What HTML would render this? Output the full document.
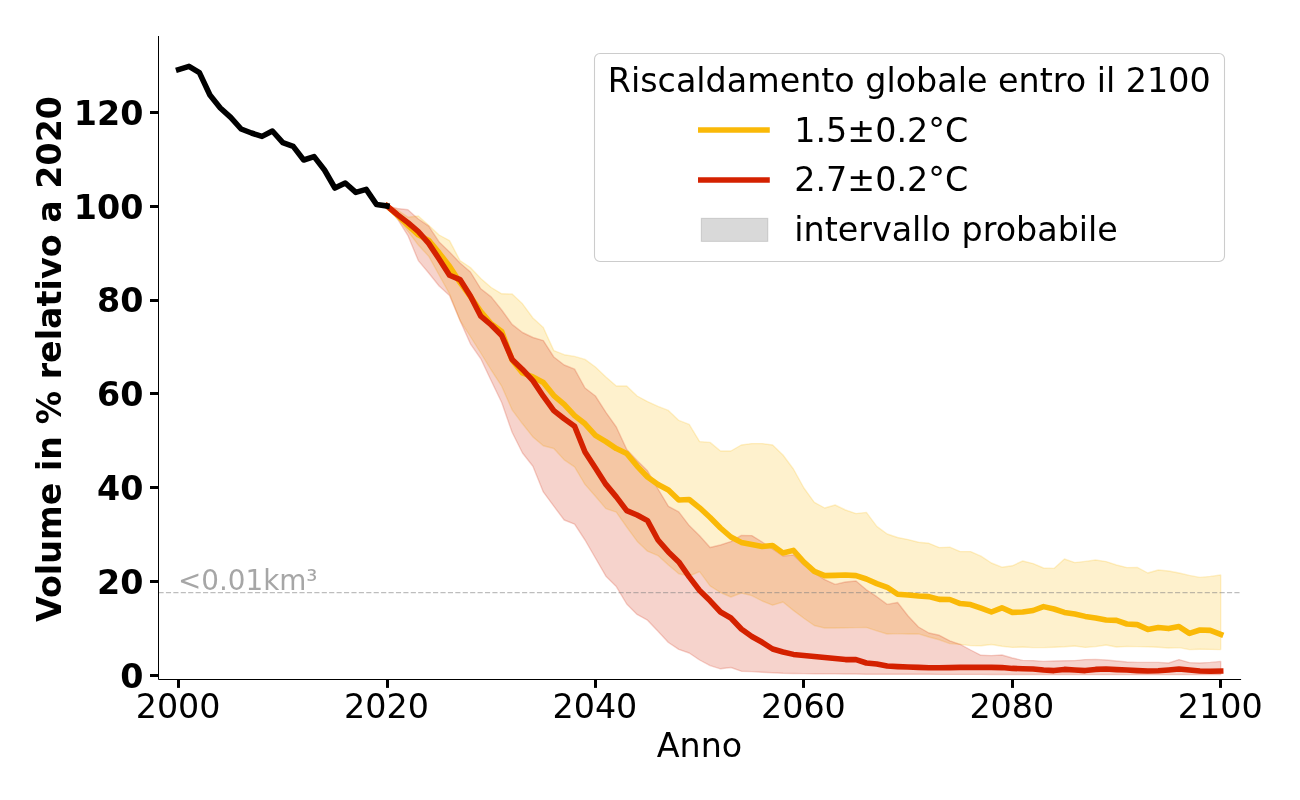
<!DOCTYPE html>
<html lang="it"><head><meta charset="utf-8"><title>Volume in % relativo a 2020</title>
<style>
html,body{margin:0;padding:0;background:#fff;}
body{width:1300px;height:800px;overflow:hidden;}
svg{display:block;}
text{font-family:"DejaVu Sans","Liberation Sans",sans-serif;fill:#000;}
.b{font-weight:bold;}
</style></head><body>
<svg width="1300" height="800" viewBox="0 0 1300 800">
<rect width="1300" height="800" fill="#fff"/>
<polygon points="387.0,206.0 397.4,210.0 407.9,217.2 418.3,216.0 428.7,225.3 439.1,235.0 449.5,240.6 460.0,260.6 470.4,267.5 480.8,278.5 491.2,287.5 501.7,293.8 512.1,294.0 522.5,303.8 532.9,318.0 543.3,327.5 553.8,350.6 564.2,354.7 574.6,356.4 585.0,359.4 595.4,367.0 605.9,377.0 616.3,386.0 626.7,386.0 637.1,396.0 647.5,401.6 658.0,406.4 668.4,410.4 678.8,420.4 689.2,424.4 699.6,441.6 710.1,442.4 720.5,451.0 730.9,451.0 741.3,445.0 751.8,443.6 762.2,443.6 772.6,445.0 783.0,455.0 793.4,469.0 803.9,488.0 814.3,502.3 824.7,508.0 835.1,505.0 845.5,510.0 856.0,513.6 866.4,512.4 876.8,526.4 887.2,534.0 897.6,537.5 908.1,539.6 918.5,542.2 928.9,543.3 939.3,547.6 949.8,547.2 960.2,551.6 970.6,551.6 981.0,556.2 991.4,563.0 1001.9,567.2 1012.3,565.8 1022.7,561.0 1033.1,563.6 1043.5,568.0 1054.0,568.4 1064.4,559.0 1074.8,562.6 1085.2,561.4 1095.6,560.0 1106.1,561.6 1116.5,565.0 1126.9,567.6 1137.3,567.4 1147.8,573.0 1158.2,570.0 1168.6,571.0 1179.0,573.0 1189.4,575.4 1199.9,577.4 1210.3,576.4 1220.7,575.0 1220.7,649.6 1210.3,649.4 1199.9,649.2 1189.4,649.6 1179.0,647.6 1168.6,648.0 1158.2,647.2 1147.8,646.8 1137.3,646.6 1126.9,646.4 1116.5,647.0 1106.1,645.0 1095.6,646.6 1085.2,647.4 1074.8,646.0 1064.4,646.8 1054.0,647.2 1043.5,647.6 1033.1,647.6 1022.7,647.0 1012.3,647.4 1001.9,646.2 991.4,644.5 981.0,645.8 970.6,645.6 960.2,644.4 949.8,643.6 939.3,639.8 928.9,637.0 918.5,633.8 908.1,634.0 897.6,633.6 887.2,634.0 876.8,630.8 866.4,627.4 856.0,627.6 845.5,627.8 835.1,628.0 824.7,628.0 814.3,625.5 803.9,618.2 793.4,610.4 783.0,602.0 772.6,605.2 762.2,601.0 751.8,595.6 741.3,593.0 730.9,597.0 720.5,592.5 710.1,585.9 699.6,571.6 689.2,576.0 678.8,573.8 668.4,565.0 658.0,555.6 647.5,551.2 637.1,541.2 626.7,527.0 616.3,512.2 605.9,508.6 595.4,496.2 585.0,484.4 574.6,466.9 564.2,459.8 553.8,448.5 543.3,445.8 532.9,436.9 522.5,423.8 512.1,409.8 501.7,386.2 491.2,370.0 480.8,353.0 470.4,336.5 460.0,320.3 449.5,293.8 439.1,275.0 428.7,256.2 418.3,245.0 407.9,231.2 397.4,218.0 387.0,206.0" fill="#fab907" fill-opacity="0.2" stroke="#fab907" stroke-opacity="0.2" stroke-width="1.4" stroke-linejoin="round"/>
<polygon points="387.0,206.0 397.4,208.5 407.9,209.8 418.3,219.0 428.7,226.2 439.1,241.9 449.5,252.0 460.0,263.0 470.4,272.0 480.8,288.8 491.2,296.9 501.7,310.0 512.1,324.4 522.5,332.5 532.9,337.5 543.3,340.6 553.8,357.0 564.2,365.0 574.6,369.2 585.0,388.0 595.4,396.0 605.9,412.3 616.3,427.0 626.7,449.4 637.1,460.6 647.5,470.8 658.0,489.0 668.4,506.3 678.8,511.9 689.2,525.6 699.6,535.7 710.1,547.5 720.5,545.0 730.9,541.6 741.3,535.4 751.8,535.6 762.2,542.0 772.6,549.0 783.0,556.0 793.4,555.0 803.9,565.0 814.3,573.0 824.7,579.6 835.1,584.4 845.5,582.0 856.0,581.0 866.4,589.8 876.8,596.7 887.2,604.4 897.6,602.5 908.1,616.0 918.5,627.0 928.9,633.0 939.3,635.3 949.8,640.8 960.2,644.4 970.6,650.0 981.0,655.3 991.4,655.6 1001.9,655.0 1012.3,658.0 1022.7,660.4 1033.1,660.6 1043.5,661.4 1054.0,661.0 1064.4,660.8 1074.8,660.6 1085.2,659.6 1095.6,659.4 1106.1,660.0 1116.5,661.0 1126.9,662.0 1137.3,662.4 1147.8,662.4 1158.2,662.4 1168.6,663.0 1179.0,659.6 1189.4,662.6 1199.9,663.0 1210.3,662.4 1220.7,661.4 1220.7,674.6 1210.3,674.6 1199.9,674.6 1189.4,674.6 1179.0,674.6 1168.6,674.6 1158.2,674.6 1147.8,674.6 1137.3,674.6 1126.9,674.6 1116.5,674.6 1106.1,674.6 1095.6,674.6 1085.2,674.6 1074.8,674.5 1064.4,674.5 1054.0,674.5 1043.5,674.5 1033.1,674.5 1022.7,674.5 1012.3,674.5 1001.9,674.5 991.4,674.5 981.0,674.4 970.6,674.4 960.2,674.4 949.8,674.4 939.3,674.4 928.9,674.3 918.5,674.3 908.1,674.3 897.6,674.3 887.2,674.2 876.8,674.2 866.4,674.2 856.0,674.0 845.5,674.0 835.1,673.9 824.7,673.9 814.3,673.8 803.9,673.6 793.4,673.5 783.0,673.3 772.6,672.8 762.2,672.2 751.8,671.6 741.3,671.2 730.9,667.5 720.5,668.8 710.1,665.6 699.6,660.0 689.2,653.0 678.8,649.4 668.4,642.5 658.0,631.2 647.5,620.2 637.1,614.4 626.7,604.0 616.3,586.6 605.9,576.2 595.4,558.0 585.0,540.0 574.6,524.2 564.2,520.0 553.8,506.2 543.3,491.9 532.9,466.2 522.5,453.0 512.1,432.3 501.7,402.5 491.2,380.8 480.8,358.8 470.4,343.8 460.0,320.5 449.5,295.6 439.1,286.0 428.7,273.0 418.3,260.6 407.9,235.6 397.4,219.0 387.0,206.0" fill="#d42100" fill-opacity="0.2" stroke="#d42100" stroke-opacity="0.2" stroke-width="1.4" stroke-linejoin="round"/>
<line x1="158.5" x2="1240.6" y1="592.5" y2="592.5" stroke="#808080" stroke-opacity="0.52" stroke-width="1.25" stroke-dasharray="5.12 2.3"/>
<polyline points="387.0,206.0 397.4,215.2 407.9,225.2 418.3,234.9 428.7,240.4 439.1,252.9 449.5,266.2 460.0,282.4 470.4,296.5 480.8,311.5 491.2,323.8 501.7,331.5 512.1,360.0 522.5,373.0 532.9,376.9 543.3,382.5 553.8,395.6 564.2,404.4 574.6,415.6 585.0,423.8 595.4,435.3 605.9,441.6 616.3,448.6 626.7,453.4 637.1,466.1 647.5,477.0 658.0,484.5 668.4,490.0 678.8,500.0 689.2,499.5 699.6,507.8 710.1,517.5 720.5,528.0 730.9,537.0 741.3,542.4 751.8,544.4 762.2,546.4 772.6,545.6 783.0,553.0 793.4,550.4 803.9,562.0 814.3,571.4 824.7,575.6 835.1,575.4 845.5,575.0 856.0,575.6 866.4,579.0 876.8,583.6 887.2,587.3 897.6,594.3 908.1,595.0 918.5,596.0 928.9,596.6 939.3,599.4 949.8,599.5 960.2,603.6 970.6,604.6 981.0,608.2 991.4,612.0 1001.9,607.8 1012.3,612.4 1022.7,612.0 1033.1,610.5 1043.5,606.6 1054.0,609.0 1064.4,612.4 1074.8,614.0 1085.2,616.4 1095.6,618.0 1106.1,620.0 1116.5,620.4 1126.9,624.0 1137.3,624.6 1147.8,629.4 1158.2,627.6 1168.6,628.6 1179.0,626.6 1189.4,633.4 1199.9,630.0 1210.3,630.4 1220.7,634.4" fill="none" stroke="#fab907" stroke-width="5.56" stroke-linejoin="round" stroke-linecap="square"/>
<polyline points="387.0,206.0 397.4,214.6 407.9,222.6 418.3,231.5 428.7,243.4 439.1,259.0 449.5,275.2 460.0,279.6 470.4,296.0 480.8,316.2 491.2,325.0 501.7,335.5 512.1,359.4 522.5,369.4 532.9,380.6 543.3,396.2 553.8,410.6 564.2,418.8 574.6,426.2 585.0,452.0 595.4,468.0 605.9,484.4 616.3,496.9 626.7,510.6 637.1,515.0 647.5,520.6 658.0,540.0 668.4,551.9 678.8,561.9 689.2,576.9 699.6,590.5 710.1,600.8 720.5,612.0 730.9,618.0 741.3,629.0 751.8,636.5 762.2,642.3 772.6,649.0 783.0,652.0 793.4,654.4 803.9,655.4 814.3,656.6 824.7,657.6 835.1,658.6 845.5,659.6 856.0,659.6 866.4,663.0 876.8,664.0 887.2,666.0 897.6,666.6 908.1,667.0 918.5,667.4 928.9,667.8 939.3,667.8 949.8,667.6 960.2,667.4 970.6,667.4 981.0,667.2 991.4,667.4 1001.9,667.6 1012.3,668.4 1022.7,668.8 1033.1,669.0 1043.5,670.0 1054.0,670.6 1064.4,669.4 1074.8,670.0 1085.2,670.6 1095.6,669.4 1106.1,669.0 1116.5,669.6 1126.9,670.0 1137.3,670.6 1147.8,671.0 1158.2,670.8 1168.6,670.0 1179.0,669.0 1189.4,670.0 1199.9,671.0 1210.3,671.2 1220.7,671.0" fill="none" stroke="#d42100" stroke-width="5.56" stroke-linejoin="round" stroke-linecap="square"/>
<polyline points="178.6,69.6 189.0,66.4 199.4,72.6 209.9,95.0 220.3,108.0 230.7,117.4 241.1,129.0 251.5,133.0 262.0,136.4 272.4,131.0 282.8,142.6 293.2,146.4 303.7,160.0 314.1,156.6 324.5,170.0 334.9,188.0 345.3,183.0 355.8,192.4 366.2,189.4 376.6,204.6 387.0,206.0" fill="none" stroke="#000" stroke-width="5.56" stroke-linejoin="round" stroke-linecap="square"/>
<text x="178" y="590" font-size="27.8" style="fill:#a6a6a6">&lt;0.01km³</text>
<path d="M158.5 36.5V679.5H1240.6" fill="none" stroke="#000" stroke-width="1" stroke-linecap="square"/>
<rect x="177.0" y="679.5" width="3" height="8.4" fill="#000"/>
<text x="178.1" y="717.6" font-size="33.33" text-anchor="middle">2000</text>
<rect x="386.0" y="679.5" width="3" height="8.4" fill="#000"/>
<text x="386.5" y="717.6" font-size="33.33" text-anchor="middle">2020</text>
<rect x="594.0" y="679.5" width="3" height="8.4" fill="#000"/>
<text x="594.9" y="717.6" font-size="33.33" text-anchor="middle">2040</text>
<rect x="802.0" y="679.5" width="3" height="8.4" fill="#000"/>
<text x="803.4" y="717.6" font-size="33.33" text-anchor="middle">2060</text>
<rect x="1011.0" y="679.5" width="3" height="8.4" fill="#000"/>
<text x="1011.8" y="717.6" font-size="33.33" text-anchor="middle">2080</text>
<rect x="1219.0" y="679.5" width="3" height="8.4" fill="#000"/>
<text x="1220.2" y="717.6" font-size="33.33" text-anchor="middle">2100</text>
<rect x="150.0" y="674.0" width="8.5" height="3" fill="#000"/>
<text class="b" x="143.4" y="688" font-size="33.33" text-anchor="end">0</text>
<rect x="150.0" y="580.0" width="8.5" height="3" fill="#000"/>
<text class="b" x="143.4" y="594" font-size="33.33" text-anchor="end">20</text>
<rect x="150.0" y="486.0" width="8.5" height="3" fill="#000"/>
<text class="b" x="143.4" y="500" font-size="33.33" text-anchor="end">40</text>
<rect x="150.0" y="392.0" width="8.5" height="3" fill="#000"/>
<text class="b" x="143.4" y="406" font-size="33.33" text-anchor="end">60</text>
<rect x="150.0" y="299.0" width="8.5" height="3" fill="#000"/>
<text class="b" x="143.4" y="312" font-size="33.33" text-anchor="end">80</text>
<rect x="150.0" y="205.0" width="8.5" height="3" fill="#000"/>
<text class="b" x="143.4" y="219" font-size="33.33" text-anchor="end">100</text>
<rect x="150.0" y="111.0" width="8.5" height="3" fill="#000"/>
<text class="b" x="143.4" y="125" font-size="33.33" text-anchor="end">120</text>
<text x="699.5" y="757" font-size="33.33" text-anchor="middle">Anno</text>
<text class="b" transform="translate(61,359) rotate(-90)" font-size="33.33" text-anchor="middle">Volume in % relativo a 2020</text>
<rect x="594.5" y="53.5" width="630" height="208" rx="5.5" ry="5.5" fill="#fff" fill-opacity="0.8" stroke="#cccccc" stroke-width="1.1"/>
<text x="607.8" y="91.5" font-size="33.33">Riscaldamento globale entro il 2100</text>
<line x1="700.8" x2="767.0" y1="130" y2="130" stroke="#fab907" stroke-width="5.56" stroke-linecap="square"/>
<line x1="700.8" x2="767.0" y1="180" y2="180" stroke="#d42100" stroke-width="5.56" stroke-linecap="square"/>
<rect x="701.3" y="218.3" width="66.5" height="23.1" fill="#808080" fill-opacity="0.3" stroke="#808080" stroke-opacity="0.3" stroke-width="1"/>
<text x="794.3" y="141.5" font-size="33.33">1.5±0.2°C</text>
<text x="794.3" y="190.5" font-size="33.33">2.7±0.2°C</text>
<text x="794.3" y="240.5" font-size="33.33">intervallo probabile</text>
</svg></body></html>
